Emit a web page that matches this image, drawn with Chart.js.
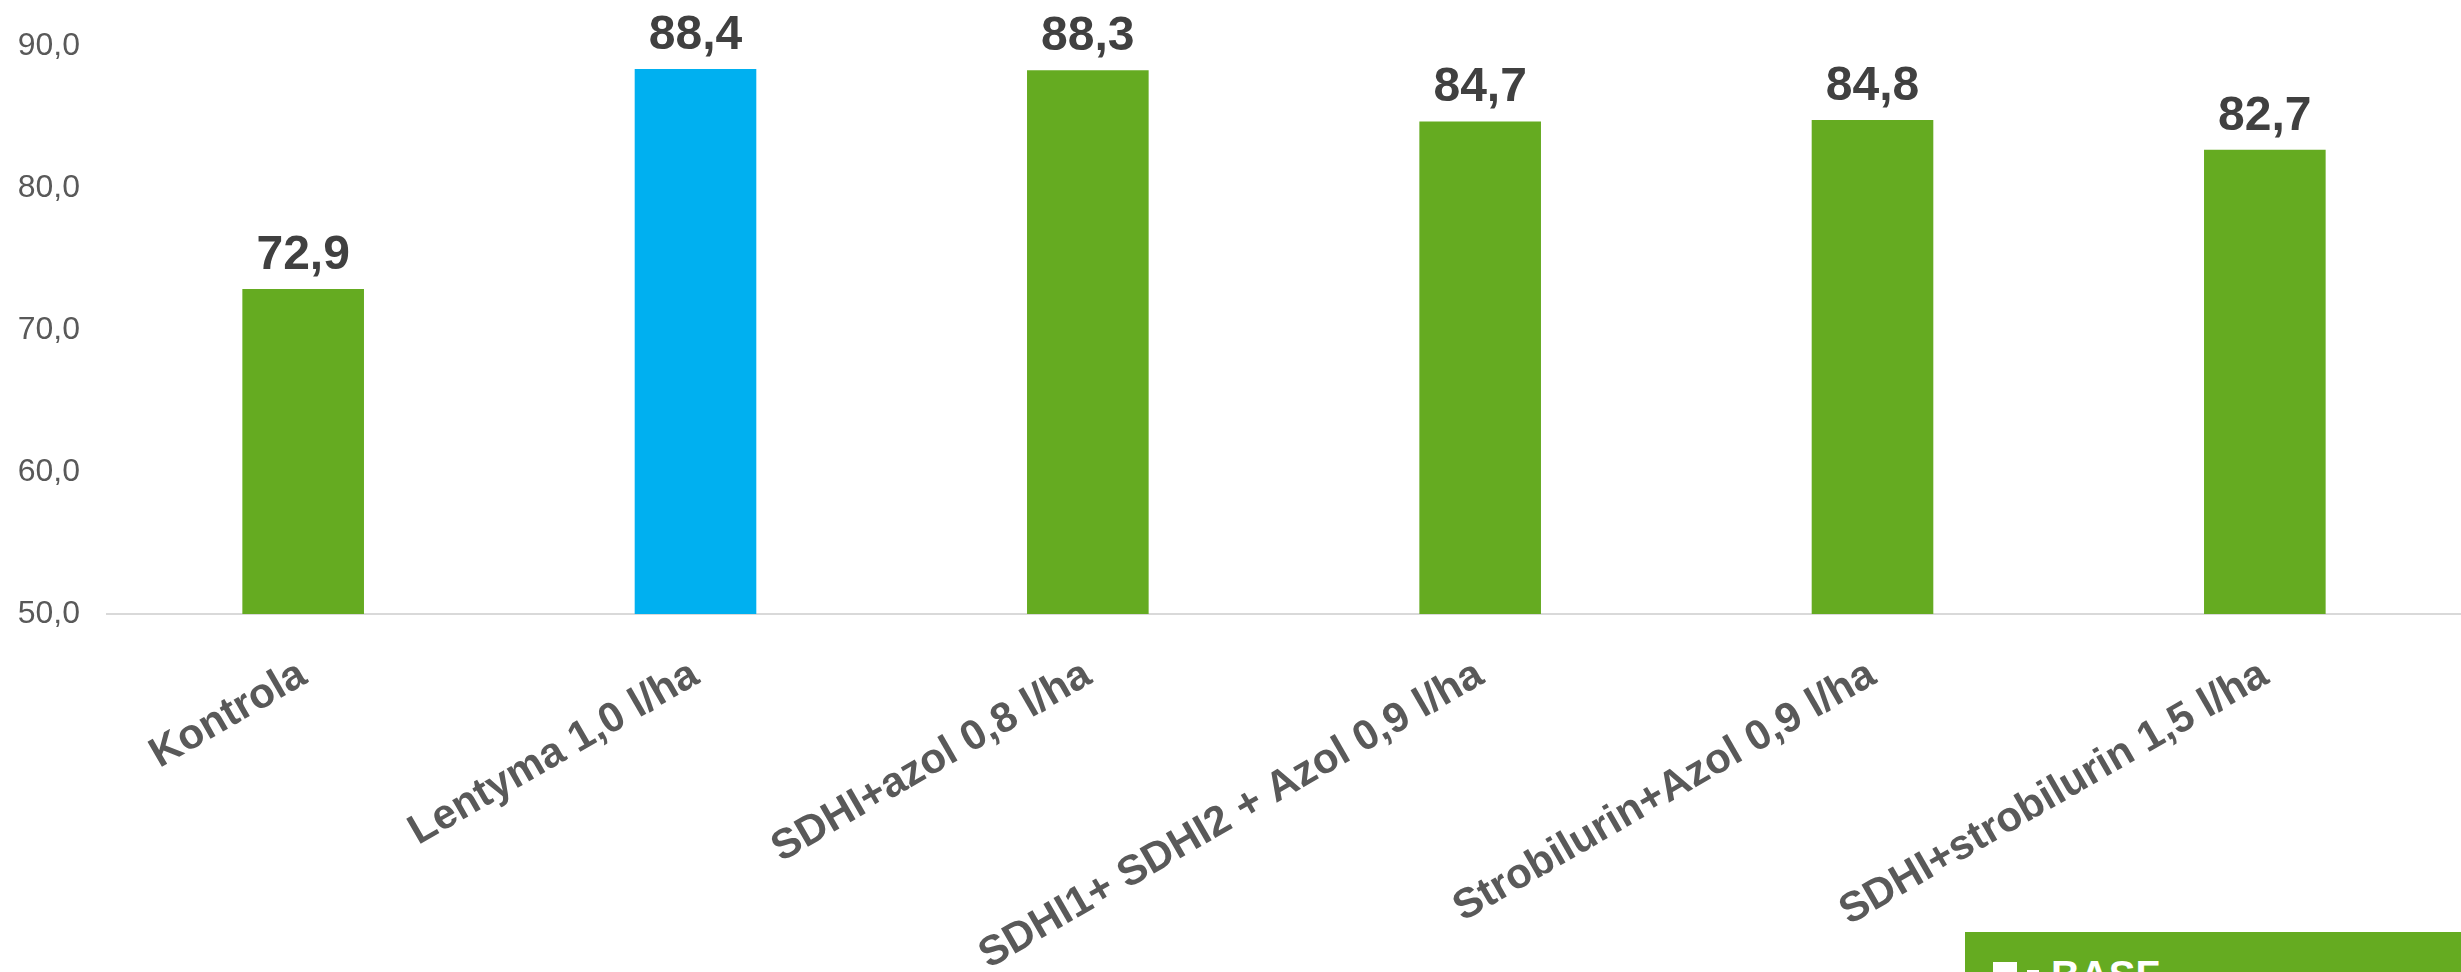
<!DOCTYPE html>
<html>
<head>
<meta charset="utf-8">
<script src="https://cdn.jsdelivr.net/npm/chart.js@4/dist/chart.umd.min.js"></script>
<style>
  body { margin: 0; background: #fff; }
  #wrap { position: relative; width: 2461px; height: 972px; overflow: hidden; }
  #basf { position: absolute; left: 1965px; top: 932px; width: 496px; height: 40px; background: #65ab21; overflow: hidden; }
  #basf .sq { position: absolute; left: 28px; top: 30px; width: 24px; height: 24px; background: #fff; }
  #basf .dash { position: absolute; left: 62px; top: 38px; width: 12px; height: 6px; background: #fff; }
  #basf .txt { position: absolute; left: 86px; top: 21px; color: #fff; font: bold 40px "Liberation Sans", Arial, sans-serif; }
</style>
</head>
<body>
<div id="wrap">
  <canvas id="bar-chart" width="2461" height="972"></canvas>
  <div id="basf"><div class="sq"></div><div class="dash"></div><div class="txt">BASF</div></div>
</div>
<script>
let categories = ['Kontrola', 'Lentyma 1,0 l/ha', 'SDHI+azol 0,8 l/ha', 'SDHI1+ SDHI2 + Azol 0,9 l/ha', 'Strobilurin+Azol 0,9 l/ha', 'SDHI+strobilurin 1,5 l/ha'];
let values = [72.9, 88.4, 88.3, 84.7, 84.8, 82.7];
let yTicks = [50, 60, 70, 80, 90];
let highlighted = 'Lentyma 1,0 l/ha';

let font = '"Liberation Sans", Arial, sans-serif';

barColors = [];
categories.forEach(function (cat) {
    barColors.push(cat === highlighted ? '#00b0f0' : '#65ab21')
});

function comma(v) {
    return v.toFixed(1).replace('.', ',')
}

// value labels above the bars
let valueLabels = {
    id: 'valueLabels',
    afterDatasetsDraw(chart) {
        let ctx = chart.ctx;
        let meta = chart.getDatasetMeta(0);
        ctx.save();
        ctx.font = 'bold 48px ' + font;
        ctx.fillStyle = '#404040';
        ctx.textAlign = 'center';
        ctx.textBaseline = 'alphabetic';
        meta.data.forEach(function (bar, i) {
            ctx.fillText(comma(values[i]), bar.x, bar.y - 20)
        });
        ctx.restore();
    }
};

new Chart(document.getElementById('bar-chart'), {
    type: 'bar',
    data: {
        labels: categories,
        datasets: [{
            data: values,
            backgroundColor: barColors,
            categoryPercentage: 1,
            barPercentage: 0.31
        }]
    },
    options: {
        responsive: false,
        animation: false,
        layout: { padding: { top: 44, right: 0, bottom: 0, left: 0 } },
        plugins: {
            legend: { display: false },
            tooltip: { enabled: false }
        },
        scales: {
            x: {
                grid: { display: false, drawTicks: false },
                border: { display: true, color: '#d9d9d9', width: 2 },
                ticks: {
                    color: '#595959',
                    font: { family: font, size: 42, weight: 'bold' },
                    minRotation: 30,
                    maxRotation: 30,
                    autoSkip: false,
                    padding: 36
                },
                afterFit: function (scale) { scale.height = 972 - 614 }
            },
            y: {
                min: yTicks[0],
                max: yTicks[yTicks.length - 1],
                grid: { display: false, drawTicks: false },
                border: { display: false },
                ticks: {
                    stepSize: yTicks[1] - yTicks[0],
                    color: '#595959',
                    font: { family: font, size: 32 },
                    padding: 27,
                    callback: function (v) { return comma(v) }
                },
                afterFit: function (scale) { scale.width = 107 }
            }
        }
    },
    plugins: [valueLabels]
});
</script>
</body>
</html>
